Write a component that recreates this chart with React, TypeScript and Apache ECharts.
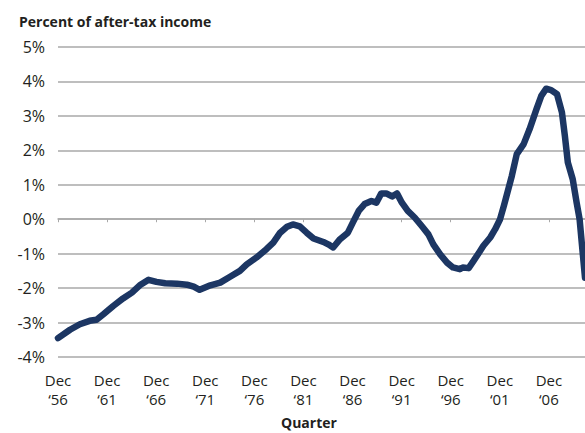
import React, { useEffect, useRef } from "react";
import * as echarts from "echarts";

// Dec 1956 is the origin of the x scale (years as decimal)
const BASE_YEAR = 1956.875;

const years = [
  1956.875, 1958.1, 1959.1, 1960.1, 1960.8, 1961.5, 1962.5, 1963.5, 1964.4, 1965.2,
  1966.1, 1966.9, 1967.8, 1969.0, 1970.0, 1970.7, 1971.3, 1972.4, 1973.4, 1974.4,
  1975.4, 1976.1, 1977.1, 1978.1, 1978.8, 1979.5, 1980.2, 1980.8, 1981.5, 1982.2,
  1982.9, 1983.9, 1984.4, 1984.9, 1985.6, 1986.4, 1986.9, 1987.5, 1988.1, 1988.8,
  1989.3, 1989.8, 1990.3, 1990.9, 1991.4, 1991.9, 1992.5, 1993.2, 1993.9, 1994.6,
  1995.1, 1995.8, 1996.5, 1997.1, 1997.8, 1998.1, 1998.7, 1999.2, 1999.8, 2000.2,
  2000.9, 2001.4, 2001.9, 2002.3, 2003.1, 2003.6, 2004.3, 2004.9, 2005.6, 2006.1,
  2006.6, 2007.1, 2007.7, 2008.2, 2008.5, 2008.8, 2009.3, 2009.7, 2010.0, 2010.55,
];

const values = [
  -3.45, -3.21, -3.05, -2.95, -2.92, -2.76, -2.52, -2.3, -2.13, -1.92,
  -1.76, -1.82, -1.86, -1.87, -1.9, -1.96, -2.05, -1.92, -1.84, -1.67,
  -1.5, -1.31, -1.11, -0.87, -0.68, -0.39, -0.22, -0.15, -0.21, -0.39,
  -0.56, -0.66, -0.73, -0.82, -0.58, -0.39, -0.1, 0.24, 0.44, 0.53,
  0.48, 0.75, 0.75, 0.66, 0.75, 0.48, 0.24, 0.05, -0.19, -0.44,
  -0.73, -1.02, -1.26, -1.4, -1.45, -1.4, -1.42, -1.21, -0.95, -0.77,
  -0.53, -0.29, 0.0, 0.4, 1.26, 1.89, 2.18, 2.61, 3.19, 3.58,
  3.79, 3.75, 3.63, 3.1, 2.42, 1.65, 1.16, 0.48, 0.0, -1.7,
];

const tickLabels = [
  "Dec\n\u201856", "Dec\n\u201861", "Dec\n\u201866", "Dec\n\u201871", "Dec\n\u201876",
  "Dec\n\u201881", "Dec\n\u201886", "Dec\n\u201891", "Dec\n\u201896", "Dec\n\u201801",
  "Dec\n\u201806",
];

const X_MAX_YEAR = 2010.55;
const yTicks = { min: -4, max: 5, step: 1 };

const FONT = "'Open Sans', 'Noto Sans', sans-serif";
const TEXT = "#231f20";
const GRID = "#a9a9a9";
const LINE = "#1c3663";

export default function App() {
  const ref = useRef<HTMLDivElement>(null);

  useEffect(() => {
    if (!ref.current) return;
    const chart = echarts.init(ref.current, null, { renderer: "svg" });
    const data = years.map((y, i) => [y - BASE_YEAR, values[i]]);
    const tickPositions = tickLabels.map((_, i) => i * 5);
    const xMax = X_MAX_YEAR - BASE_YEAR;

    chart.setOption({
      animation: false,
      backgroundColor: "#ffffff",
      textStyle: { fontFamily: FONT },
      title: {
        text: "Percent of after-tax income",
        left: 14,
        top: 9,
        textStyle: { fontFamily: FONT, fontSize: 14, fontWeight: "bold", color: TEXT },
      },
      graphic: [
        {
          type: "text",
          left: 281,
          top: 415,
          style: {
            text: "Quarter",
            fontFamily: FONT,
            fontSize: 14,
            fontWeight: "bold",
            fill: TEXT,
          },
        },
      ],
      grid: { left: 58, right: 0, top: 47, bottom: 76, containLabel: false },
      xAxis: [
        {
          type: "value",
          min: 0,
          max: xMax,
          interval: 5,
          position: "bottom",
          axisLine: { show: true, onZero: true, lineStyle: { color: GRID, width: 1.5 } },
          axisTick: {
            show: true,
            length: 3,
            customValues: tickPositions,
            lineStyle: { color: GRID, width: 1 },
          },
          axisLabel: { show: false },
          splitLine: { show: false },
        },
        {
          type: "value",
          min: 0,
          max: xMax,
          interval: 5,
          position: "bottom",
          axisLine: { show: false, onZero: false },
          axisTick: { show: false },
          splitLine: { show: false },
          axisLabel: {
            show: true,
            customValues: tickPositions,
            formatter: (v: number) => tickLabels[Math.round(v / 5)] ?? "",
            fontFamily: FONT,
            fontSize: 15,
            lineHeight: 19,
            color: TEXT,
            margin: 13,
          },
        },
      ],
      yAxis: {
        type: "value",
        min: yTicks.min,
        max: yTicks.max,
        interval: yTicks.step,
        axisLine: { show: false },
        axisTick: { show: false },
        axisLabel: {
          formatter: "{value}%",
          fontFamily: FONT,
          fontSize: 16,
          color: TEXT,
          margin: 13,
        },
        splitLine: { show: true, lineStyle: { color: GRID, width: 1.5 } },
      },
      series: [
        {
          type: "line",
          xAxisIndex: 0,
          data,
          showSymbol: false,
          symbol: "none",
          lineStyle: { color: LINE, width: 6.5, join: "round", cap: "round" },
        },
      ],
    });

    return () => chart.dispose();
  }, []);

  return (
    <div
      ref={ref}
      style={{ position: "absolute", left: 0, top: 0, width: 585, height: 433 }}
    />
  );
}
